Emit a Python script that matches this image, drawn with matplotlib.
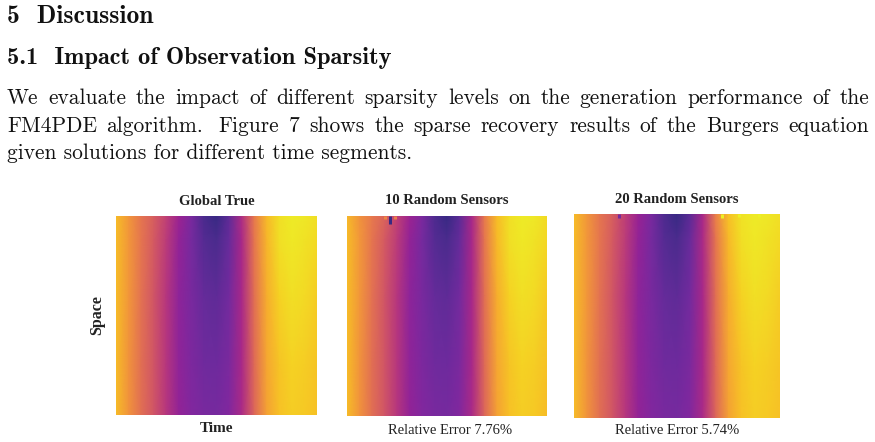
import numpy as np
import matplotlib
matplotlib.use('Agg')
import matplotlib.pyplot as plt
from matplotlib.colors import ListedColormap, rgb_to_hsv, hsv_to_rgb

W, H = 875, 442

# ---- text of the page ----
section = '5  Discussion'
subsection = '5.1  Impact of Observation Sparsity'
body_lines = [
    'We evaluate the impact of different sparsity levels on the generation performance of the',
    'FM4PDE algorithm.  Figure 7 shows the sparse recovery results of the Burgers equation',
    'given solutions for different time segments.',
]

panel_titles = ['Global True', '10 Random Sensors', '20 Random Sensors']
panel_notes = ['Time', 'Relative Error 7.76%', 'Relative Error 5.74%']
y_label = 'Space'

# ---- heatmap values (plasma scale 0..1) ----
time_nodes = np.linspace(0, 1, 17)
space_nodes = [0.0, 0.12, 0.4, 0.75, 1.0]

field_true = [
    [0.87, 0.77, 0.67, 0.59, 0.49, 0.36, 0.22, 0.07, 0.02, 0.13, 0.42, 0.68, 0.86, 0.95, 0.98, 0.97, 0.95],
    [0.87, 0.77, 0.67, 0.58, 0.47, 0.33, 0.21, 0.10, 0.07, 0.16, 0.40, 0.67, 0.85, 0.95, 0.97, 0.96, 0.94],
    [0.87, 0.77, 0.66, 0.56, 0.45, 0.31, 0.22, 0.15, 0.13, 0.20, 0.40, 0.65, 0.83, 0.92, 0.95, 0.94, 0.91],
    [0.87, 0.76, 0.65, 0.56, 0.45, 0.32, 0.24, 0.19, 0.18, 0.23, 0.40, 0.63, 0.81, 0.89, 0.92, 0.91, 0.89],
    [0.87, 0.76, 0.65, 0.56, 0.45, 0.33, 0.26, 0.22, 0.21, 0.26, 0.41, 0.62, 0.80, 0.88, 0.91, 0.90, 0.88],
]
field_10 = [
    [0.86, 0.76, 0.68, 0.61, 0.49, 0.36, 0.23, 0.08, 0.02, 0.12, 0.40, 0.68, 0.87, 0.95, 0.98, 0.97, 0.94],
    [0.87, 0.77, 0.67, 0.58, 0.47, 0.33, 0.21, 0.10, 0.07, 0.15, 0.40, 0.67, 0.86, 0.95, 0.97, 0.96, 0.93],
    [0.87, 0.77, 0.66, 0.56, 0.45, 0.31, 0.22, 0.15, 0.13, 0.20, 0.40, 0.65, 0.83, 0.92, 0.95, 0.94, 0.90],
    [0.87, 0.76, 0.65, 0.56, 0.45, 0.32, 0.24, 0.19, 0.18, 0.23, 0.40, 0.63, 0.81, 0.89, 0.92, 0.91, 0.88],
    [0.87, 0.76, 0.65, 0.56, 0.45, 0.33, 0.26, 0.22, 0.21, 0.26, 0.41, 0.62, 0.80, 0.88, 0.91, 0.90, 0.87],
]
field_20 = [
    [0.87, 0.77, 0.67, 0.59, 0.48, 0.35, 0.22, 0.08, 0.02, 0.12, 0.40, 0.70, 0.88, 0.96, 0.98, 0.97, 0.95],
    [0.87, 0.77, 0.67, 0.58, 0.47, 0.33, 0.21, 0.10, 0.07, 0.16, 0.41, 0.67, 0.86, 0.95, 0.97, 0.96, 0.94],
    [0.87, 0.77, 0.66, 0.56, 0.45, 0.31, 0.22, 0.15, 0.13, 0.20, 0.40, 0.65, 0.83, 0.92, 0.95, 0.94, 0.91],
    [0.87, 0.76, 0.65, 0.56, 0.45, 0.32, 0.24, 0.19, 0.18, 0.23, 0.40, 0.63, 0.81, 0.89, 0.92, 0.91, 0.89],
    [0.87, 0.76, 0.65, 0.56, 0.45, 0.33, 0.26, 0.22, 0.21, 0.26, 0.41, 0.62, 0.80, 0.88, 0.91, 0.90, 0.88],
]

# sensor artefacts at the top edge: (time, depth, value)
spots_10 = [(0.215, 0.04, 0.02), (0.19, 0.015, 0.72), (0.24, 0.015, 0.70)]
spots_20 = [(0.22, 0.02, 0.20), (0.72, 0.02, 0.99), (0.80, 0.015, 0.99), (0.90, 0.015, 0.99)]

fields = [field_true, field_10, field_20]
spots = [[], spots_10, spots_20]

# axes boxes in pixels (left, top, right, bottom)
boxes = [(116, 216, 317, 415), (347, 216, 547, 416), (574, 214, 780, 418)]

# the printed figure looks like plasma with the purples toned down
pos = np.linspace(0, 1, 256)
lut = plt.get_cmap('plasma')(pos)[:, :3]
hsv = rgb_to_hsv(lut)
hsv[:, 1] = np.minimum(hsv[:, 1], 0.68 + 0.27 * pos)
hsv[:, 2] = hsv[:, 2] * (0.93 + 0.05 * pos)
cmap = ListedColormap(hsv_to_rgb(hsv))


def fx(x):
    return x / W


def fy(y):
    return 1 - y / H


fig = plt.figure(figsize=(W / 100, H / 100), dpi=100)
fig.patch.set_facecolor('white')
renderer = fig.canvas.get_renderer()


def width_of(s, **kw):
    t = fig.text(0, 0, s, **kw)
    w = t.get_window_extent(renderer).width
    t.remove()
    return w


def fit_size(s, target, **kw):
    return 12 * target / width_of(s, fontsize=12, **kw)


# headings
sz = fit_size(section, 146, family='cmb10')
fig.text(fx(7), fy(23), section, family='cmb10', fontsize=sz, va='baseline', color='#111111')
sz = fit_size(subsection, 385, family='cmb10')
fig.text(fx(7), fy(64), subsection, family='cmb10', fontsize=sz, va='baseline', color='#111111')

# body text, justified between x=7 and x=869
body_size = fit_size(body_lines[2], 405, family='cmr10')
baselines = [104, 132, 159]
for i, line in enumerate(body_lines):
    if i == len(body_lines) - 1:
        fig.text(fx(7), fy(baselines[i]), line, family='cmr10', fontsize=body_size,
                 va='baseline', color='#111111')
        continue
    words = line.split()
    widths = [width_of(w_, family='cmr10', fontsize=body_size) for w_ in words]
    # a sentence end gets a wider gap, as TeX does
    weights = [1.6 if w_.endswith('.') else 1.0 for w_ in words[:-1]]
    unit = (862 - sum(widths)) / sum(weights)
    x = 7
    for j, (w_, ww) in enumerate(zip(words, widths)):
        fig.text(fx(x), fy(baselines[i]), w_, family='cmr10', fontsize=body_size,
                 va='baseline', color='#111111')
        if j < len(weights):
            x += ww + unit * weights[j]

# heatmaps
for k, (l, t, r, b) in enumerate(boxes):
    ax = fig.add_axes([fx(l), fy(b), fx(r) - fx(l), (b - t) / H])
    ax.pcolormesh(time_nodes, space_nodes, np.array(fields[k]), shading='gouraud',
                  cmap=cmap, vmin=0, vmax=1)
    for (sx, depth, v) in spots[k]:
        ax.plot([sx, sx], [0, depth], color=cmap(v), lw=2.2, solid_capstyle='butt')
    ax.set_xlim(0, 1)
    ax.set_ylim(1, 0)
    ax.axis('off')

title_pos = [(217, 202), (447, 201), (677, 200)]
note_pos = [(217, 429), (450, 430), (677, 430)]
for k in range(3):
    fig.text(fx(title_pos[k][0]), fy(title_pos[k][1]), panel_titles[k], family='Liberation Serif',
             weight='bold', fontsize=10.5, ha='center', va='center', color='#222222')
    fig.text(fx(note_pos[k][0]), fy(note_pos[k][1]), panel_notes[k], family='Liberation Serif',
             weight='bold' if k == 0 else 'normal', fontsize=11 if k == 0 else 10.5,
             ha='center', va='center', color='#222222')

fig.text(fx(97), fy(315), y_label, family='Liberation Serif', weight='bold', fontsize=11.5,
         rotation=90, ha='center', va='center', color='#222222')

fig.savefig('out.png', dpi=100, facecolor='white')
